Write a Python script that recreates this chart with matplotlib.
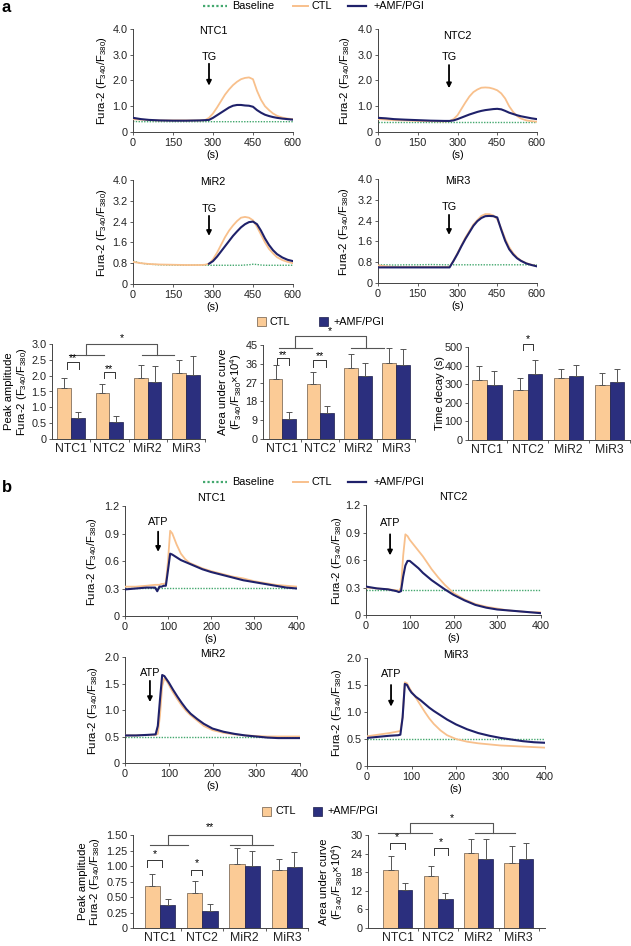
import numpy as np
import matplotlib
matplotlib.use("Agg")
import matplotlib.pyplot as plt
from matplotlib.lines import Line2D
from matplotlib.patches import Rectangle

plt.rcParams['font.family'] = ['Liberation Sans', 'DejaVu Sans']
plt.rcParams['mathtext.fontset'] = 'custom'
plt.rcParams['mathtext.rm'] = 'Liberation Sans'
plt.rcParams['mathtext.it'] = 'Liberation Sans:italic'
plt.rcParams['mathtext.bf'] = 'Liberation Sans:bold'

# ---------------- data ----------------
groups = ["NTC1", "NTC2", "MiR2", "MiR3"]

# panel a traces (TG)
a_time = [0, 30, 60, 100, 150, 200, 250, 270, 285, 300, 315, 330, 345, 360, 375, 390,
          405, 420, 435, 450, 465, 480, 495, 510, 525, 540, 560, 580, 600]
a_ntc1_ctl = [0.50, 0.48, 0.46, 0.45, 0.45, 0.45, 0.45, 0.46, 0.55, 0.72, 0.95, 1.20, 1.45, 1.65, 1.82, 1.95,
              2.05, 2.10, 2.12, 2.05, 1.60, 1.25, 1.00, 0.85, 0.72, 0.63, 0.56, 0.52, 0.50]
a_ntc1_amf = [0.55, 0.50, 0.47, 0.45, 0.44, 0.44, 0.45, 0.46, 0.47, 0.55, 0.65, 0.75, 0.85, 0.95, 1.02, 1.05,
              1.05, 1.03, 1.02, 0.98, 0.85, 0.75, 0.67, 0.62, 0.58, 0.55, 0.52, 0.50, 0.48]
a_ntc1_base = [0.41, 0.40, 0.40, 0.40, 0.40, 0.40, 0.40, 0.40, 0.40, 0.40, 0.40, 0.40, 0.40, 0.40, 0.40, 0.40,
               0.40, 0.40, 0.40, 0.40, 0.40, 0.40, 0.40, 0.40, 0.40, 0.40, 0.40, 0.40, 0.40]
a_ntc2_ctl = [0.50, 0.48, 0.46, 0.45, 0.43, 0.42, 0.41, 0.42, 0.50, 0.65, 0.90, 1.15, 1.38, 1.55, 1.65, 1.72,
              1.73, 1.72, 1.68, 1.62, 1.50, 1.30, 1.00, 0.78, 0.62, 0.52, 0.45, 0.42, 0.40]
a_ntc2_amf = [0.55, 0.53, 0.50, 0.48, 0.46, 0.44, 0.43, 0.43, 0.45, 0.50, 0.56, 0.62, 0.68, 0.73, 0.78, 0.82,
              0.85, 0.87, 0.89, 0.90, 0.88, 0.82, 0.75, 0.70, 0.65, 0.61, 0.57, 0.53, 0.50]
a_ntc2_base = [0.40, 0.40, 0.40, 0.40, 0.40, 0.40, 0.40, 0.40, 0.40, 0.40, 0.40, 0.40, 0.40, 0.40, 0.40, 0.40,
               0.40, 0.40, 0.40, 0.40, 0.40, 0.40, 0.40, 0.40, 0.40, 0.40, 0.40, 0.40, 0.40]
a_mir2_ctl = [0.85, 0.80, 0.77, 0.75, 0.74, 0.73, 0.73, 0.74, 0.78, 0.95, 1.20, 1.50, 1.80, 2.05, 2.25, 2.42,
              2.55, 2.58, 2.55, 2.45, 2.20, 1.90, 1.60, 1.35, 1.18, 1.03, 0.92, 0.85, 0.80]
a_mir2_amf = [np.nan, np.nan, np.nan, np.nan, np.nan, np.nan, np.nan, np.nan, 0.78, 0.88, 1.05, 1.25, 1.45, 1.65, 1.85, 2.02,
              2.18, 2.30, 2.38, 2.40, 2.30, 2.05, 1.75, 1.50, 1.30, 1.15, 1.02, 0.93, 0.88]
a_mir2_base = [0.88, 0.80, 0.76, 0.74, 0.73, 0.72, 0.73, 0.72, 0.72, 0.72, 0.72, 0.72, 0.72, 0.72, 0.72, 0.72,
               0.72, 0.73, 0.74, 0.76, 0.75, 0.73, 0.72, 0.72, 0.72, 0.72, 0.72, 0.72, 0.72]
a_mir3_ctl = [0.68, 0.64, 0.62, 0.62, 0.62, 0.62, 0.62, 0.62, 0.85, 1.15, 1.45, 1.75, 2.00, 2.25, 2.42, 2.58,
              2.65, 2.65, 2.60, 2.45, 2.10, 1.70, 1.38, 1.15, 0.98, 0.86, 0.76, 0.70, 0.65]
a_mir3_amf = [0.60, 0.60, 0.60, 0.60, 0.60, 0.60, 0.60, 0.60, 0.85, 1.12, 1.42, 1.70, 1.95, 2.20, 2.38, 2.50,
              2.57, 2.58, 2.57, 2.52, 2.05, 1.62, 1.30, 1.10, 0.95, 0.85, 0.75, 0.69, 0.64]
a_mir3_base = [0.70, 0.70, 0.69, 0.70, 0.70, 0.71, 0.70, 0.70, 0.70, 0.70, 0.70, 0.70, 0.70, 0.70, 0.70, 0.70,
               0.70, 0.70, 0.70, 0.70, 0.70, 0.70, 0.70, 0.70, 0.70, 0.70, 0.70, 0.70, 0.70]

# panel b traces (ATP)
b_time = [0, 25, 50, 70, 75, 80, 85, 90, 95, 100, 105, 110, 120, 130, 140, 150, 165, 180, 200,
          225, 250, 275, 300, 325, 350, 375, 400]
b_ntc1_ctl = [0.32, 0.32, 0.33, 0.34, 0.34, 0.34, 0.35, 0.35, 0.36, 0.60, 0.93, 0.90, 0.78, 0.68, 0.62, 0.58,
              0.55, 0.52, 0.49, 0.46, 0.43, 0.41, 0.38, 0.36, 0.34, 0.33, 0.32]
b_ntc1_amf = [0.29, 0.30, 0.31, 0.31, 0.27, 0.32, 0.32, 0.33, 0.33, 0.50, 0.68, 0.67, 0.64, 0.61, 0.59, 0.57,
              0.54, 0.51, 0.48, 0.45, 0.42, 0.39, 0.37, 0.35, 0.33, 0.31, 0.30]
b_ntc1_base = [0.31] * 27
b_ntc2_ctl = [0.30, 0.29, 0.28, 0.27, 0.26, 0.30, 0.65, 0.88, 0.86, 0.82, 0.79, 0.76, 0.70, 0.64, 0.57, 0.50,
              0.41, 0.33, 0.24, 0.17, 0.12, 0.09, 0.07, 0.05, 0.04, 0.03, 0.03]
b_ntc2_amf = [0.31, 0.29, 0.28, 0.26, 0.25, 0.26, 0.42, 0.54, 0.59, 0.59, 0.57, 0.55, 0.51, 0.46, 0.42, 0.38,
              0.33, 0.28, 0.22, 0.16, 0.11, 0.08, 0.06, 0.05, 0.04, 0.03, 0.02]
b_ntc2_base = [0.27] * 27
b_mir2_ctl = [0.52, 0.52, 0.53, 0.53, 0.55, 0.90, 1.45, 1.60, 1.55, 1.48, 1.40, 1.33, 1.20, 1.08, 0.98, 0.90,
              0.80, 0.70, 0.62, 0.57, 0.54, 0.52, 0.51, 0.50, 0.50, 0.50, 0.50]
b_mir2_amf = [0.52, 0.52, 0.53, 0.54, 0.70, 1.20, 1.66, 1.64, 1.58, 1.52, 1.45, 1.38, 1.25, 1.13, 1.02, 0.93,
              0.83, 0.74, 0.65, 0.59, 0.55, 0.52, 0.50, 0.48, 0.47, 0.47, 0.47]
b_mir2_base = [0.50] * 27
b_mir3_ctl = [0.55, 0.58, 0.61, 0.64, 0.65, 0.90, 1.55, 1.53, 1.45, 1.38, 1.32, 1.26, 1.13, 1.00, 0.88, 0.78,
              0.66, 0.57, 0.50, 0.45, 0.42, 0.40, 0.38, 0.37, 0.36, 0.35, 0.34]
b_mir3_amf = [0.52, 0.54, 0.56, 0.57, 0.58, 0.90, 1.52, 1.50, 1.42, 1.36, 1.32, 1.28, 1.22, 1.15, 1.08, 1.02,
              0.94, 0.86, 0.77, 0.68, 0.61, 0.56, 0.52, 0.49, 0.46, 0.44, 0.43]
b_mir3_base = [0.50] * 27

# bar data
a_peak_ctl = [1.62, 1.45, 1.93, 2.07]
a_peak_ctl_err = [0.32, 0.28, 0.40, 0.42]
a_peak_amf = [0.65, 0.55, 1.80, 2.02]
a_peak_amf_err = [0.21, 0.18, 0.52, 0.60]
a_auc_ctl = [28.9, 26.4, 34.2, 36.2]
a_auc_ctl_err = [6.4, 5.6, 6.7, 7.6]
a_auc_amf = [9.6, 12.4, 30.0, 35.3]
a_auc_amf_err = [3.2, 3.3, 6.4, 7.6]
a_decay_ctl = [320, 271, 334, 298]
a_decay_ctl_err = [78, 63, 50, 63]
a_decay_amf = [298, 354, 343, 314]
a_decay_amf_err = [73, 78, 62, 70]
b_peak_ctl = [0.68, 0.56, 1.03, 0.93]
b_peak_ctl_err = [0.19, 0.20, 0.26, 0.19]
b_peak_amf = [0.375, 0.28, 1.00, 0.98]
b_peak_amf_err = [0.10, 0.11, 0.25, 0.24]
b_auc_ctl = [18.8, 16.7, 24.3, 21.1]
b_auc_ctl_err = [4.3, 3.2, 4.3, 5.2]
b_auc_amf = [12.4, 9.3, 22.2, 22.2]
b_auc_amf_err = [2.1, 2.1, 6.4, 5.3]

a_ticks_x = [0, 150, 300, 450, 600]
b_ticks_x = [0, 100, 200, 300, 400]
a_top_yticks = [0, 1.0, 2.0, 3.0, 4.0]
a_top_ylabels = ["0", "1.0", "2.0", "3.0", "4.0"]
a_bot_yticks = [0, 0.8, 1.6, 2.4, 3.2, 4.0]
a_bot_ylabels = ["0", "0.8", "1.6", "2.4", "3.2", "4.0"]
b_top_yticks = [0, 0.3, 0.6, 0.9, 1.2]
b_top_ylabels = ["0", "0.3", "0.6", "0.9", "1.2"]
b_bot_yticks = [0, 0.5, 1.0, 1.5, 2.0]
b_bot_ylabels = ["0", "0.5", "1.0", "1.5", "2.0"]

# ---------------- style ----------------
C_CTL_LINE = "#F8C08C"
C_AMF_LINE = "#1F216A"
C_BASE = "#43A86E"
C_CTL_BAR = "#FBCB96"
C_AMF_BAR = "#2B2F7E"
C_AX = "#444444"
FS = 7.8
FS_LAB = 8.1
FS_BARX = 8.8
YLAB = "Fura-2 (F$_{340}$/F$_{380}$)"

W, H = 631, 946
fig = plt.figure(figsize=(W / 100, H / 100), dpi=100)


def ax_px(l, t, r, b):
    return fig.add_axes([l / W, 1 - b / H, (r - l) / W, (b - t) / H])


def style(ax):
    for s in ["top", "right"]:
        ax.spines[s].set_visible(False)
    for s in ["left", "bottom"]:
        ax.spines[s].set_color(C_AX)
        ax.spines[s].set_linewidth(0.7)
    ax.tick_params(direction="out", length=2.5, width=0.6, colors=C_AX,
                   labelsize=FS, labelcolor="#222222", pad=1.5)


def place_ylabel(ax, box, xc):
    l, t, r, b = box
    ax.yaxis.set_label_coords((xc - l) / (r - l), 0.5)


def trace(box, t, ctl, amf, base, xlim, xt, yt, ylab, title, title_y, stim, sx, sty, sy0, sy1, ylx):
    ax = ax_px(*box)
    style(ax)
    ax.plot(t, base, color=C_BASE, lw=1.0, ls=(0, (1, 1)), zorder=2)
    ax.plot(t, ctl, color=C_CTL_LINE, lw=1.3, zorder=3)
    ax.plot(t, amf, color=C_AMF_LINE, lw=1.5, zorder=4)
    ax.set_xlim(*xlim)
    ax.set_ylim(yt[0], yt[-1])
    ax.set_xticks(xt)
    ax.set_xticklabels([str(v) for v in xt])
    ax.set_yticks(yt)
    ax.set_yticklabels(ylab)
    ax.set_xlabel("(s)", fontsize=FS, labelpad=1.5)
    ax.set_ylabel(YLAB, fontsize=FS_LAB, va="center")
    place_ylabel(ax, box, ylx)
    ax.text(0.5, title_y, title, transform=ax.transAxes, ha="center", va="center", fontsize=FS)
    ax.annotate("", xy=(sx, sy1), xytext=(sx, sy0),
                arrowprops=dict(arrowstyle="-|>", color="black", lw=1.3, mutation_scale=7,
                                shrinkA=0, shrinkB=0))
    ax.text(sx, sty, stim, ha="center", va="center", fontsize=FS)
    return ax


# panel a traces
trace((133, 29, 293, 132), a_time, a_ntc1_ctl, a_ntc1_amf, a_ntc1_base, (0, 600), a_ticks_x,
      a_top_yticks, a_top_ylabels, "NTC1", 0.98, "TG", 285, 2.9, 2.65, 1.8, 102)
trace((378, 29, 537, 132), a_time, a_ntc2_ctl, a_ntc2_amf, a_ntc2_base, (0, 600), a_ticks_x,
      a_top_yticks, a_top_ylabels, "NTC2", 0.93, "TG", 268, 2.9, 2.6, 1.7, 345)
trace((133, 180, 293, 284), a_time, a_mir2_ctl, a_mir2_amf, a_mir2_base, (0, 600), a_ticks_x,
      a_bot_yticks, a_bot_ylabels, "MiR2", 0.98, "TG", 285, 2.9, 2.62, 1.85, 102)
trace((378, 179, 537, 283), a_time, a_mir3_ctl, a_mir3_amf, a_mir3_base, (0, 600), a_ticks_x,
      a_bot_yticks, a_bot_ylabels, "MiR3", 0.98, "TG", 268, 2.92, 2.62, 1.85, 344)

# panel b traces
trace((125, 506, 297, 616), b_time, b_ntc1_ctl, b_ntc1_amf, b_ntc1_base, (0, 400), b_ticks_x,
      b_top_yticks, b_top_ylabels, "NTC1", 1.07, "ATP", 77, 1.03, 0.92, 0.7, 92)
trace((366, 505, 541, 615), b_time, b_ntc2_ctl, b_ntc2_amf, b_ntc2_base, (0, 400), b_ticks_x,
      b_top_yticks, b_top_ylabels, "NTC2", 1.07, "ATP", 55, 1.0, 0.88, 0.65, 337)
trace((125, 657, 300, 763), b_time, b_mir2_ctl, b_mir2_amf, b_mir2_base, (0, 400), b_ticks_x,
      b_bot_yticks, b_bot_ylabels, "MiR2", 1.03, "ATP", 57, 1.7, 1.55, 1.15, 93)
trace((367, 658, 545, 766), b_time, b_mir3_ctl, b_mir3_amf, b_mir3_base, (0, 400), b_ticks_x,
      b_bot_yticks, b_bot_ylabels, "MiR3", 1.03, "ATP", 54, 1.7, 1.5, 1.1, 337)


def bars(box, xlim, ctl, ctl_err, amf, amf_err, yt, ylab, ylabel, ylx):
    ax = ax_px(*box)
    style(ax)
    x = np.arange(len(groups))
    w = 0.36
    ek = dict(ecolor="#555555", elinewidth=0.7, capsize=2.0, capthick=0.7)
    ax.bar(x - w / 2, ctl, w, color=C_CTL_BAR, edgecolor="#6b5a48", linewidth=0.5,
           yerr=[[0] * len(ctl), ctl_err], error_kw=ek, zorder=3)
    ax.bar(x + w / 2, amf, w, color=C_AMF_BAR, edgecolor="#1a1c4a", linewidth=0.5,
           yerr=[[0] * len(amf), amf_err], error_kw=ek, zorder=3)
    ax.set_xlim(*xlim)
    ax.set_ylim(yt[0], yt[-1])
    ax.set_xticks(x)
    ax.set_xticklabels(groups, fontsize=FS_BARX)
    ax.tick_params(axis="x", length=0, pad=3)
    ax.set_xticks(x + 0.5, minor=True)
    ax.tick_params(axis="x", which="minor", length=2, direction="out", width=0.6, colors=C_AX)
    ax.set_yticks(yt)
    ax.set_yticklabels(ylab)
    ax.set_ylabel(ylabel, fontsize=FS_LAB, linespacing=1.1, va="center")
    place_ylabel(ax, box, ylx)
    return ax


def pair(ax, x0, x1, ytop, yleg, star, ystar):
    ax.plot([x0, x0, x1, x1], [yleg, ytop, ytop, yleg], color="#333333", lw=0.7, clip_on=False)
    ax.text((x0 + x1) / 2, ystar, star, ha="center", va="center", fontsize=FS)


def group(ax, l0, l1, c0, r0, r1, c1, ylow, ytop, star, ystar):
    kw = dict(color="#555555", lw=0.8, clip_on=False)
    ax.plot([l0, l1], [ylow, ylow], **kw)
    ax.plot([r0, r1], [ylow, ylow], **kw)
    ax.plot([c0, c0, c1, c1], [ylow, ytop, ytop, ylow], **kw)
    ax.text((c0 + c1) / 2, ystar, star, ha="center", va="center", fontsize=FS)


PEAK_LAB = "Peak amplitude\nFura-2 (F$_{340}$/F$_{380}$)"
AUC_LAB = "Area under curve\n(F$_{340}$/F$_{380}$\u00d710$^{4}$)"

box = (52, 344, 205, 439)
ax = bars(box, (-0.5, 3.32), a_peak_ctl, a_peak_ctl_err, a_peak_amf, a_peak_amf_err,
          [0, 0.5, 1.0, 1.5, 2.0, 2.5, 3.0], ["0", "0.5", "1.0", "1.5", "2.0", "2.5", "3.0"], PEAK_LAB, 17)
pair(ax, -0.12, 0.2, 2.43, 2.22, "**", 2.55)
pair(ax, 0.85, 1.15, 2.1, 1.92, "**", 2.22)
group(ax, -0.05, 0.85, 0.4, 1.85, 2.7, 2.25, 2.66, 3.0, "*", 3.2)

box = (263, 345, 415, 439)
ax = bars(box, (-0.51, 3.38), a_auc_ctl, a_auc_ctl_err, a_auc_amf, a_auc_amf_err,
          [0, 9, 18, 27, 36, 45], ["0", "9", "18", "27", "36", "45"], AUC_LAB, 231)
pair(ax, -0.15, 0.18, 38.6, 35.5, "**", 40.3)
pair(ax, 0.82, 1.15, 37.8, 34.7, "**", 39.5)
group(ax, -0.08, 0.77, 0.33, 1.8, 2.67, 2.2, 43.4, 49.4, "*", 51.5)

box = (468, 347, 630, 440)
ax = bars(box, (-0.46, 3.49), a_decay_ctl, a_decay_ctl_err, a_decay_amf, a_decay_amf_err,
          [0, 100, 200, 300, 400, 500], ["0", "100", "200", "300", "400", "500"], "Time decay (s)", 440)
pair(ax, 0.88, 1.12, 514, 486, "*", 545)

box = (133, 835, 308, 928)
ax = bars(box, (-0.64, 3.5), b_peak_ctl, b_peak_ctl_err, b_peak_amf, b_peak_amf_err,
          [0, 0.25, 0.5, 0.75, 1.0, 1.25, 1.5], ["0", "0.25", "0.50", "0.75", "1.00", "1.25", "1.50"], PEAK_LAB, 90)
pair(ax, -0.3, 0.05, 1.09, 0.99, "*", 1.2)
pair(ax, 0.73, 1.0, 0.94, 0.86, "*", 1.05)
group(ax, -0.24, 0.66, 0.19, 1.65, 2.67, 2.17, 1.34, 1.5, "**", 1.63)

box = (368, 835, 545, 928)
ax = bars(box, (-0.74, 3.65), b_auc_ctl, b_auc_ctl_err, b_auc_amf, b_auc_amf_err,
          [0, 6, 12, 18, 24, 30], ["0", "6", "12", "18", "24", "30"], AUC_LAB, 332)
pair(ax, -0.2, 0.17, 27.5, 25.4, "*", 29.3)
pair(ax, 0.9, 1.25, 25.8, 23.6, "*", 27.6)
group(ax, -0.5, 0.84, 0.3, 1.91, 2.9, 2.36, 30.5, 33.8, "*", 35.5)

# ---------------- legends & panel letters ----------------
def fx(px):
    return px / W


def fy(py):
    return 1 - py / H


def line_legend(y):
    fig.add_artist(Line2D([fx(203), fx(227)], [fy(y), fy(y)], color=C_BASE, lw=1.6, ls=(0, (1, 1))))
    fig.text(fx(232), fy(y), "Baseline", fontsize=FS, va="center")
    fig.add_artist(Line2D([fx(293), fx(308)], [fy(y), fy(y)], color=C_CTL_LINE, lw=1.4))
    fig.text(fx(312), fy(y), "CTL", fontsize=FS, va="center")
    fig.add_artist(Line2D([fx(348), fx(366)], [fy(y), fy(y)], color=C_AMF_LINE, lw=1.6))
    fig.text(fx(373), fy(y), "+AMF/PGI", fontsize=FS, va="center")


def bar_legend(y, x1, x2):
    s = 9
    fig.add_artist(Rectangle((fx(x1), fy(y + s / 2)), s / W, s / H, facecolor=C_CTL_BAR,
                             edgecolor="#6b5a48", lw=0.5))
    fig.text(fx(x1 + s + 4), fy(y), "CTL", fontsize=FS, va="center")
    fig.add_artist(Rectangle((fx(x2), fy(y + s / 2)), s / W, s / H, facecolor=C_AMF_BAR,
                             edgecolor="#1a1c4a", lw=0.5))
    fig.text(fx(x2 + s + 5), fy(y), "+AMF/PGI", fontsize=FS, va="center")


line_legend(6)
line_legend(482)
bar_legend(322, 257, 319)
bar_legend(811, 262, 313)

fig.text(fx(2), fy(8), "a", fontsize=12, fontweight="bold", va="center")
fig.text(fx(2), fy(487), "b", fontsize=12, fontweight="bold", va="center")

fig.savefig("out.png", dpi=100)
